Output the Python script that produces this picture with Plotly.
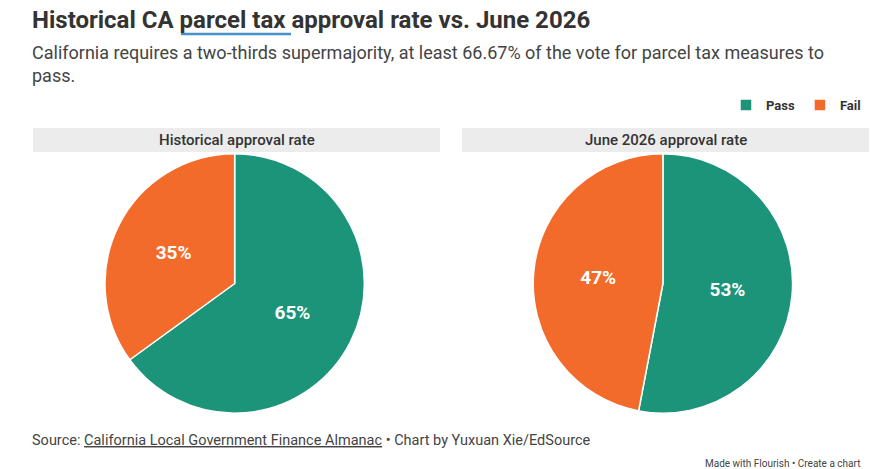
import plotly.graph_objects as go

labels = ["Pass", "Fail"]
historical = [65, 35]
june_2026 = [53, 47]
panel_titles = ["Historical approval rate", "June 2026 approval rate"]
colors = ["#1b9479", "#f26b2a"]
font = "Roboto, Arial, sans-serif"

fig = go.Figure()

domains = [dict(x=[0.117, 0.408], y=[0.119, 0.672]),
           dict(x=[0.596, 0.887], y=[0.119, 0.672])]
for i, vals in enumerate([historical, june_2026]):
    fig.add_trace(go.Pie(
        labels=labels, values=vals, domain=domains[i],
        sort=False, direction="clockwise", rotation=0,
        marker=dict(colors=colors, line=dict(color="white", width=1.5)),
        textinfo="percent", texttemplate="%{value}%",
        textposition="inside", insidetextorientation="horizontal",
        textfont=dict(color="white", size=19, family=font, weight="bold"),
        showlegend=(i == 0),
    ))

# grey header strips above each pie
for x0, x1, t in [(33, 440, panel_titles[0]), (462, 869, panel_titles[1])]:
    fig.add_shape(type="rect", xref="paper", yref="paper",
                  x0=x0 / 894, x1=x1 / 894, y0=1 - 152 / 469, y1=1 - 128 / 469,
                  fillcolor="#ececec", line_width=0, layer="below")
    fig.add_annotation(text=t, xref="paper", yref="paper",
                       x=(x0 + x1) / 2 / 894, y=1 - 140 / 469, showarrow=False,
                       xanchor="center", yanchor="middle",
                       font=dict(size=15, color="#333", family=font, weight=500))

# title, subtitle, footer
fig.add_annotation(text="<b>Historical CA parcel tax approval rate vs. June 2026</b>",
                   xref="paper", yref="paper", x=30 / 894, y=1 - 20 / 469,
                   xanchor="left", yanchor="middle", showarrow=False,
                   font=dict(size=24, color="#333", family=font))
fig.add_shape(type="line", xref="paper", yref="paper",
              x0=181 / 894, x1=291 / 894, y0=1 - 34 / 469, y1=1 - 34 / 469,
              line=dict(color="#4a90c8", width=2.5))
fig.add_annotation(text="California requires a two-thirds supermajority, at least 66.67% of the vote for parcel tax measures to<br>pass.",
                   xref="paper", yref="paper", x=30 / 894, y=1 - 40 / 469,
                   xanchor="left", yanchor="top", showarrow=False, align="left",
                   font=dict(size=18, color="#444", family=font))
fig.add_annotation(text='Source: <span style="text-decoration:underline">California Local Government Finance Almanac</span> • Chart by Yuxuan Xie/EdSource',
                   xref="paper", yref="paper", x=30 / 894, y=1 - 440 / 469,
                   xanchor="left", yanchor="middle", showarrow=False,
                   font=dict(size=14.5, color="#444", family=font))
fig.add_annotation(text="Made with Flourish • Create a chart",
                   xref="paper", yref="paper", x=862 / 894, y=1 - 463 / 469,
                   xanchor="right", yanchor="middle", showarrow=False,
                   font=dict(size=10, color="#444", family=font))

fig.update_layout(
    width=894, height=469,
    margin=dict(l=0, r=0, t=0, b=0),
    paper_bgcolor="white",
    legend=dict(orientation="h", x=866 / 894, xanchor="right",
                y=1 - 105 / 469, yanchor="middle",
                font=dict(size=13, color="#333", family=font, weight="bold"),
                itemwidth=30, traceorder="normal"),
)

fig.write_html("out.html", config={"displayModeBar": False},
               post_script="document.body.style.margin='0';")
